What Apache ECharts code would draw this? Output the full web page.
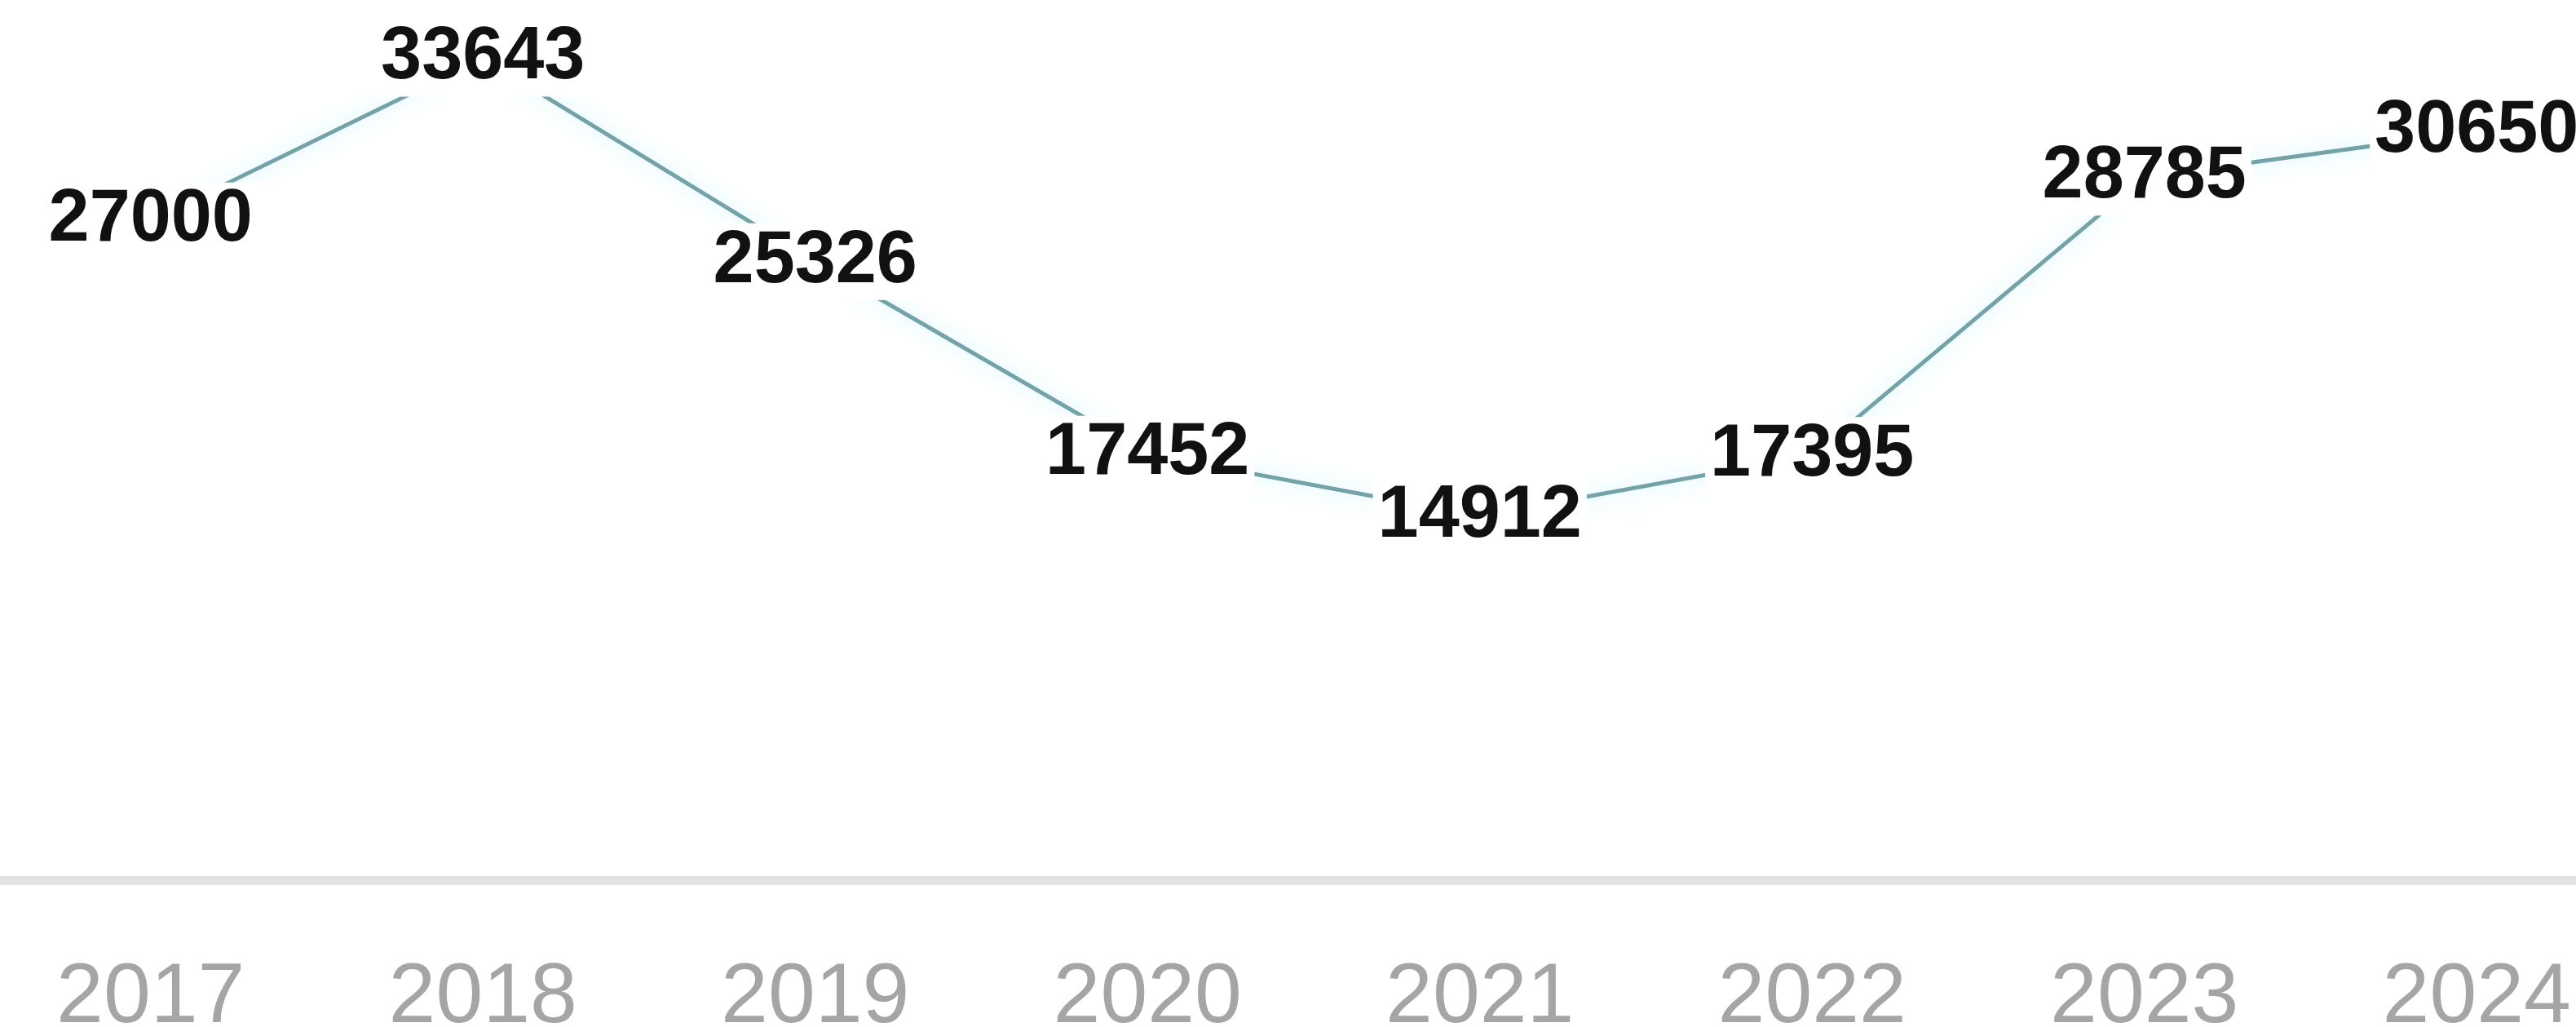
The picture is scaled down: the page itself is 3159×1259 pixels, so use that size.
<!DOCTYPE html>
<html>
<head>
<meta charset="utf-8">
<script src="https://cdn.jsdelivr.net/npm/echarts@6/dist/echarts.min.js"></script>
<style>
html,body{margin:0;padding:0;background:#fff;}
#chart{width:3159px;height:1259px;}
</style>
</head>
<body>
<div id="chart"></div>
<script>
const categories = ['2017', '2018', '2019', '2020', '2021', '2022', '2023', '2024'];
const values = [27000, 33643, 25326, 17452, 14912, 17395, 28785, 30650];

const chart = echarts.init(document.getElementById('chart'), null, {renderer: 'canvas'});
chart.setOption({
  animation: false,
  backgroundColor: '#ffffff',
  grid: {left: -19, right: -82, top: 1, bottom: 179.5, containLabel: false, outerBoundsMode: 'none'},
  xAxis: {
    type: 'category',
    data: categories,
    boundaryGap: true,
    axisLine: {show: true, lineStyle: {color: '#e3e3e3', width: 11}},
    axisTick: {show: false},
    splitLine: {show: false},
    axisLabel: {
      color: '#a5a5a5',
      fontSize: 104,
      lineHeight: 104,
      fontFamily: 'Liberation Sans, Arial, sans-serif',
      margin: 93
    }
  },
  yAxis: {
    type: 'value',
    min: 0,
    max: 36000,
    show: false,
    splitLine: {show: false}
  },
  series: [{
    type: 'line',
    data: values,
    showSymbol: true,
    symbol: 'circle',
    symbolSize: 0.1,
    itemStyle: {color: 'rgba(0,0,0,0)'},
    lineStyle: {
      color: '#73a2a8',
      width: 5,
      shadowColor: 'rgba(130,235,255,0.6)',
      shadowBlur: 25
    },
    label: {
      show: true,
      position: 'inside',
      color: '#111111',
      fontSize: 90,
      fontWeight: 'bold',
      fontFamily: 'Liberation Sans, Arial, sans-serif',
      backgroundColor: '#ffffff',
      padding: [4, 6, 0, 6],
      lineHeight: 90
    }
  }]
});
</script>
</body>
</html>
